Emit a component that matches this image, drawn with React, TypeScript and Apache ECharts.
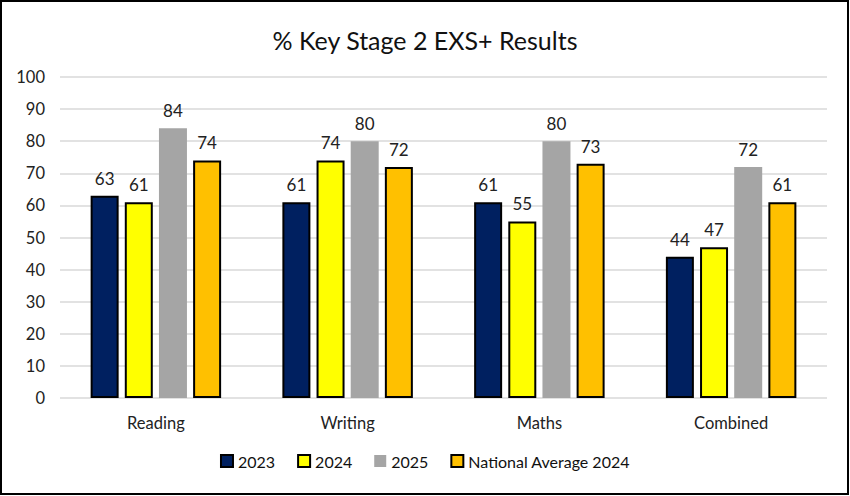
import React, { useEffect, useRef } from "react";
import * as echarts from "echarts";

const categories = ["Reading", "Writing", "Maths", "Combined"];
const seriesNames = ["2023", "2024", "2025", "National Average 2024"];
const values2023 = [63, 61, 61, 44];
const values2024 = [61, 74, 55, 47];
const values2025 = [84, 80, 80, 72];
const valuesNational = [74, 72, 73, 61];
const yTicks = { min: 0, max: 100, interval: 10 };
const title = "% Key Stage 2 EXS+ Results";

const colors = ["#002060", "#FFFF00", "#A5A5A5", "#FFC000"];
const bordered = [true, true, false, true];

export default function App() {
  const ref = useRef<HTMLDivElement>(null);
  useEffect(() => {
    document.body.style.margin = "0";
    const chart = echarts.init(ref.current!, null, { renderer: "svg" });
    const font = "Lato, 'Liberation Sans', sans-serif";
    const data = [values2023, values2024, values2025, valuesNational];
    chart.setOption({
      animation: false,
      textStyle: { fontFamily: font },
      title: {
        text: title,
        left: "center",
        top: 22,
        textStyle: { fontSize: 25, fontWeight: "normal", color: "#111", fontFamily: font },
      },
      graphic: [
        {
          type: "rect",
          shape: { x: 1, y: 1, width: 847, height: 493 },
          style: { fill: "none", stroke: "#000", lineWidth: 2 },
          silent: true,
        },
      ],
      legend: {
        bottom: 22,
        left: "center",
        itemWidth: 12,
        itemHeight: 12,
        itemGap: 22,
        icon: "rect",
        textStyle: { fontSize: 16, color: "#111", fontFamily: font },
        data: seriesNames,
      },
      grid: { left: 60, right: 23, top: 77, bottom: 98, containLabel: false },
      xAxis: {
        type: "category",
        data: categories,
        axisLine: { show: false },
        axisTick: { show: false },
        axisLabel: { fontSize: 16.5, color: "#222", margin: 16, fontFamily: font },
      },
      yAxis: {
        type: "value",
        min: yTicks.min,
        max: yTicks.max,
        interval: yTicks.interval,
        axisLine: { show: false },
        axisTick: { show: false },
        axisLabel: { fontSize: 16.5, color: "#222", margin: 15, fontFamily: font },
        splitLine: { lineStyle: { color: "#D9D9D9", width: 1.5 } },
      },
      series: seriesNames.map((name, i) => ({
        name,
        type: "bar",
        data: data[i],
        barWidth: 28,
        barGap: "22%",
        itemStyle: {
          color: colors[i],
          borderColor: bordered[i] ? "#000" : undefined,
          borderWidth: bordered[i] ? 2 : 0,
        },
        label: {
          show: true,
          position: "top",
          distance: 9,
          fontSize: 17,
          color: "#222",
          fontFamily: font,
        },
      })),
    });
    return () => chart.dispose();
  }, []);
  return <div ref={ref} style={{ width: 850, height: 496 }} />;
}
